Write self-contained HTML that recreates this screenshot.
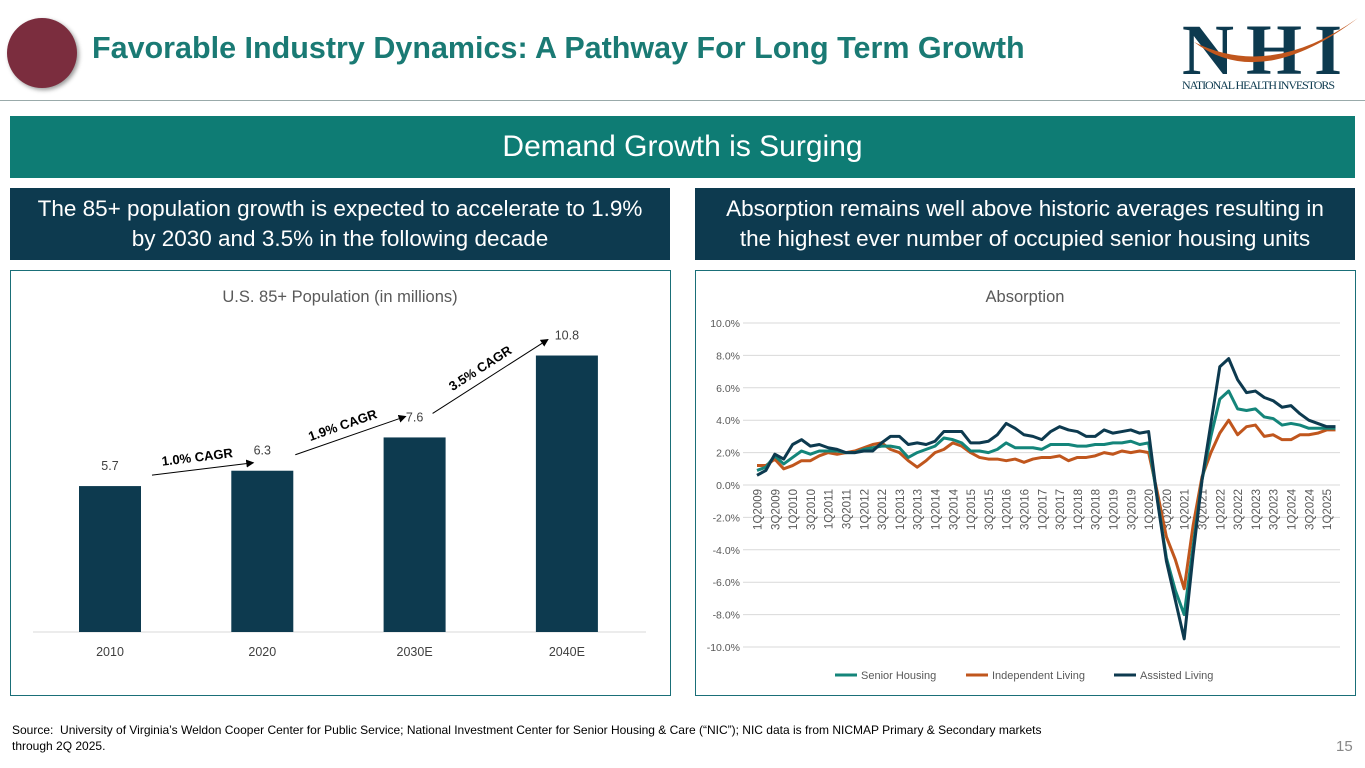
<!DOCTYPE html>
<html><head><meta charset="utf-8"><style>
body{margin:0;width:1365px;height:768px;background:#fff;position:relative;overflow:hidden;font-family:"Liberation Sans",sans-serif}
.abs{position:absolute}
.box{position:absolute;background:#0d3a4f;color:#fff;font-size:22.5px;line-height:30px;text-align:center;display:flex;align-items:center;justify-content:center}
.panel{position:absolute;border:1px solid #1a6f78;background:#fff}
</style></head><body>
<div class="abs" style="left:7px;top:18px;width:70px;height:70px;border-radius:50%;background:#7b2d3e;box-shadow:2px 2px 4px #999"></div>
<div class="abs" style="left:92px;top:31px;font-size:30.5px;font-weight:bold;color:#1a7a74">Favorable Industry Dynamics: A Pathway For Long Term Growth</div>
<div class="abs" style="left:1180px;top:12px;width:180px;height:80px">
<svg width="180" height="80"><text x="2" y="62" font-family="Liberation Serif" font-size="72" font-weight="bold" fill="#0d3a4f" textLength="160">NHI</text>
<path d="M14 30 Q80 80 178 6 Q90 68 14 30Z" fill="#c0561d"/>
<text x="2" y="77" font-family="Liberation Serif" font-size="12" fill="#0d3a4f" textLength="153">NATIONAL HEALTH INVESTORS</text></svg></div>
<div class="abs" style="left:0;top:100px;width:1365px;height:1px;background:#9aa"></div>
<div class="abs" style="left:10px;top:116px;width:1345px;height:62px;background:#0e7c74;color:#fff;font-size:30px;display:flex;align-items:center;justify-content:center">Demand Growth is Surging</div>
<div class="box" style="left:10px;top:188px;width:660px;height:72px">The 85+ population growth is expected to accelerate to 1.9%<br>by 2030 and 3.5% in the following decade</div>
<div class="box" style="left:695px;top:188px;width:660px;height:72px">Absorption remains well above historic averages resulting in<br>the highest ever number of occupied senior housing units</div>
<div class="panel" style="left:10px;top:270px;width:659px;height:424px"></div>
<div class="panel" style="left:695px;top:270px;width:659px;height:424px"></div>
<svg class="abs" style="left:0;top:0" width="1365" height="768" id="charts">
<defs><marker id="ah" markerWidth="8" markerHeight="8" refX="7" refY="4" orient="auto"><path d="M0,0 L8,4 L0,8Z" fill="#000"/></marker></defs>
<text x="340" y="302" text-anchor="middle" font-size="16.5" fill="#595959">U.S. 85+ Population (in millions)</text>
<text x="1025" y="302" text-anchor="middle" font-size="16.5" fill="#595959">Absorption</text>
<g id="bars"></g><g id="lines"></g>
</svg>
<div class="abs" style="left:12px;top:722px;font-size:12px;line-height:16px;color:#000">Source:&nbsp; University of Virginia’s Weldon Cooper Center for Public Service; National Investment Center for Senior Housing &amp; Care (“NIC”); NIC data is from NICMAP Primary &amp; Secondary markets<br>through 2Q 2025.</div>
<div class="abs" style="left:1336px;top:738px;font-size:15px;color:#888">15</div>
<script>
const barCats=["2010","2020","2030E","2040E"];
const barVals=[5.7,6.3,7.6,10.8];
const cagrLabels=["1.0% CAGR","1.9% CAGR","3.5% CAGR"];
const qSH=[0.9,1.1,1.8,1.3,1.7,2.1,1.9,2.1,2.1,2.1,2.0,2.0,2.2,2.3,2.4,2.4,2.3,1.7,2.0,2.2,2.4,2.9,2.8,2.6,2.1,2.1,2.0,2.2,2.6,2.3,2.3,2.3,2.2,2.5,2.5,2.5,2.4,2.4,2.5,2.5,2.6,2.6,2.7,2.5,2.6,-0.9,-4.5,-6.5,-8.0,-3.8,0.3,3.0,5.3,5.8,4.7,4.6,4.7,4.2,4.1,3.7,3.8,3.7,3.5,3.5,3.5,3.5];
const qIL=[1.2,1.2,1.6,1.0,1.2,1.5,1.5,1.8,2.0,1.9,2.0,2.1,2.3,2.5,2.6,2.2,2.0,1.5,1.1,1.5,2.0,2.2,2.6,2.4,2.0,1.7,1.6,1.6,1.5,1.6,1.4,1.6,1.7,1.7,1.8,1.5,1.7,1.7,1.8,2.0,1.9,2.1,2.0,2.1,2.0,-0.5,-3.2,-4.6,-6.4,-2.5,0.5,2.0,3.2,4.0,3.1,3.6,3.7,3.0,3.1,2.8,2.8,3.1,3.1,3.2,3.4,3.4];
const qAL=[0.6,0.9,1.9,1.6,2.5,2.8,2.4,2.5,2.3,2.2,2.0,2.0,2.1,2.1,2.6,3.0,3.0,2.5,2.6,2.5,2.7,3.3,3.3,3.3,2.6,2.6,2.7,3.1,3.8,3.5,3.1,3.0,2.8,3.3,3.6,3.4,3.3,3.0,3.0,3.4,3.2,3.3,3.4,3.2,3.3,-1.0,-4.7,-7.1,-9.5,-4.3,0.3,3.8,7.3,7.8,6.5,5.7,5.8,5.4,5.2,4.8,4.9,4.4,4.0,3.8,3.6,3.6];
const yTicks=[10,8,6,4,2,0,-2,-4,-6,-8,-10];
const NS="http://www.w3.org/2000/svg";
function mk(tag,attrs,parent,txt){const e=document.createElementNS(NS,tag);for(const k in attrs)e.setAttribute(k,attrs[k]);if(txt!=null)e.textContent=txt;parent.appendChild(e);return e;}
// bar chart
const bg=document.getElementById('bars');
const base=632,bScale=25.6,bx0=110,bStep=152.3,bw=62;
const bY=v=>base-v*bScale, bX=i=>bx0+i*bStep;
// arrow layout offsets (style, not data)
const arrowStartDx=[42,33,18],arrowStartDy=[-11,-16,-24],arrowEndDx=[-9,-9,-19],arrowEndDy=[-8,-21,-16];
let gl=mk('line',{x1:33,x2:646,y1:base,y2:base,stroke:'#d9d9d9'},bg);

barVals.forEach((v,i)=>{
 const r=mk('rect',{x:bX(i)-bw/2,y:bY(v),width:bw,height:v*bScale,fill:'#0d3a4f'},bg);
 
 
 const t=mk('text',{x:bX(i),y:bY(v)-16,'text-anchor':'middle','font-size':12.5,fill:'#404040'},bg,v.toFixed(1));
 
 
 const c=mk('text',{x:bX(i),y:656,'text-anchor':'middle','font-size':12.5,fill:'#404040'},bg,barCats[i]);
 
 
});
for(let i=0;i<3;i++){
 const x1=bX(i)+arrowStartDx[i],y1=bY(barVals[i])+arrowStartDy[i],x2=bX(i+1)+arrowEndDx[i],y2=bY(barVals[i+1])+arrowEndDy[i];
 const a=mk('line',{x1:x1,y1:y1,x2:x2,y2:y2,stroke:'#000','stroke-width':1,'marker-end':'url(#ah)'},bg);
 
 
 const ang=Math.atan2(y2-y1,x2-x1)*180/Math.PI;
 const mx=(x1+x2)/2,my=(y1+y2)/2;
 const t=mk('text',{x:mx-4,y:my-8,'text-anchor':'middle','font-size':13,'font-weight':'bold',fill:'#000',transform:`rotate(${ang} ${mx} ${my})`},bg,cagrLabels[i]);
 
 
}
// line chart
const lg=document.getElementById('lines');
const x0=757,dx=8.9,yZero=485,ys=16.2;
const lX=i=>x0+i*dx, lY=v=>yZero-v*ys;
yTicks.forEach(v=>{
 const l=mk('line',{x1:743,x2:1340,y1:lY(v),y2:lY(v),stroke:'#d9d9d9'},lg);
 
 
 const t=mk('text',{x:740,y:lY(v)+4,'text-anchor':'end','font-size':10.5,fill:'#595959'},lg,v.toFixed(1)+'%');
 
 
});
for(let i=0;i<qAL.length;i+=2){
 const yr=2009+Math.floor(i/4),q=(i%4)+1;
 const x=lX(i)+4.5,y=lY(0)+4;
 const t=mk('text',{x:x,y:y,'text-anchor':'end','font-size':11.5,fill:'#595959',transform:`rotate(-90 ${x} ${y})`},lg,q+'Q'+yr);
 
 
}
const series=[[qIL,'#c0561d','independent-living-line'],[qSH,'#14857a','senior-housing-line'],[qAL,'#0d3a4f','assisted-living-line']];
series.forEach(s=>{
 const p=mk('polyline',{points:s[0].map((v,i)=>lX(i)+','+lY(v)).join(' '),fill:'none',stroke:s[1],'stroke-width':3,'stroke-linejoin':'round'},lg);
 
 
});
const leg=[['Senior Housing','#14857a',835],['Independent Living','#c0561d',966],['Assisted Living','#0d3a4f',1114]];
leg.forEach(L=>{
 const l=mk('line',{x1:L[2],x2:L[2]+22,y1:675,y2:675,stroke:L[1],'stroke-width':3},lg);
 
 
 const t=mk('text',{x:L[2]+26,y:679,'font-size':11,fill:'#595959'},lg,L[0]);
 
 
});
</script>
</body></html>
